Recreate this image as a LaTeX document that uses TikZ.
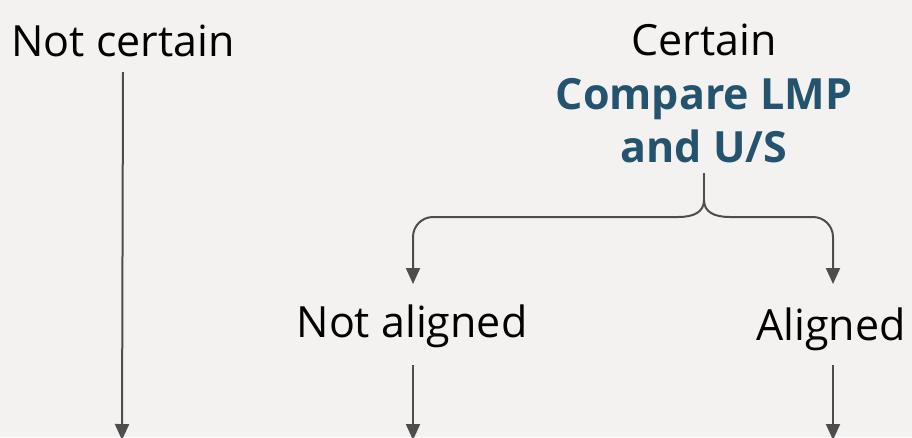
\documentclass[tikz,border=0pt]{standalone}
\usepackage{fontspec}
\setmainfont{Open Sans}
\usetikzlibrary{arrows.meta,positioning}
\definecolor{bgcol}{RGB}{243,242,240}
\definecolor{linecol}{RGB}{77,77,77}
\definecolor{headcol}{RGB}{36,83,109}
\begin{document}
\begin{tikzpicture}[x=1pt,y=-1pt, >={Triangle[length=16pt,width=14pt]}]
			\tikzstyle{lbl}=[inner sep=0pt, font=\fontsize{43}{53}\selectfont]
			\tikzstyle{arr}=[line width=2pt, draw=linecol]
			\fill[bgcol] (0,0) rectangle (912,437);
			\useasboundingbox (0,0) rectangle (912,437);
			%Labels
			\node[lbl, anchor=base](notcertain) at (123,56){Not certain};
			\node[lbl, anchor=base](certain) at (704,55){Certain};
			\node[lbl, anchor=north, align=center, text=headcol, font=\fontsize{43}{53}\selectfont\bfseries](compare) at (704,78){Compare LMP\\and U/S};
			\node[lbl, anchor=base](notaligned) at (412,337){Not aligned};
			\node[lbl, anchor=base](aligned) at (831,340){Aligned};
			%Brace Points
			\coordinate (cusp) at (704,200);
			\coordinate (natip) at (413,284);
			\coordinate (altip) at (833,284);
			\coordinate (ncend) at (122,440);
			\coordinate (naend) at (413,440);
			\coordinate (alend) at (833,440);
			%Arrows
			\draw[arr, ->](notcertain.south |- 0,72) -- (ncend);
			\draw[arr](compare.south |- 0,173) -- (cusp);
			\draw[arr, ->](cusp) .. controls (704,212) and (694,217) .. (678,217) [rounded corners=20pt] -- (413,217) -- (natip);
			\draw[arr, ->](cusp) .. controls (704,212) and (714,217) .. (730,217) [rounded corners=20pt] -- (833,217) -- (altip);
			\draw[arr, ->](naend |- 0,365) -- (naend);
			\draw[arr, ->](alend |- 0,365) -- (alend);
\end{tikzpicture}
\end{document}
